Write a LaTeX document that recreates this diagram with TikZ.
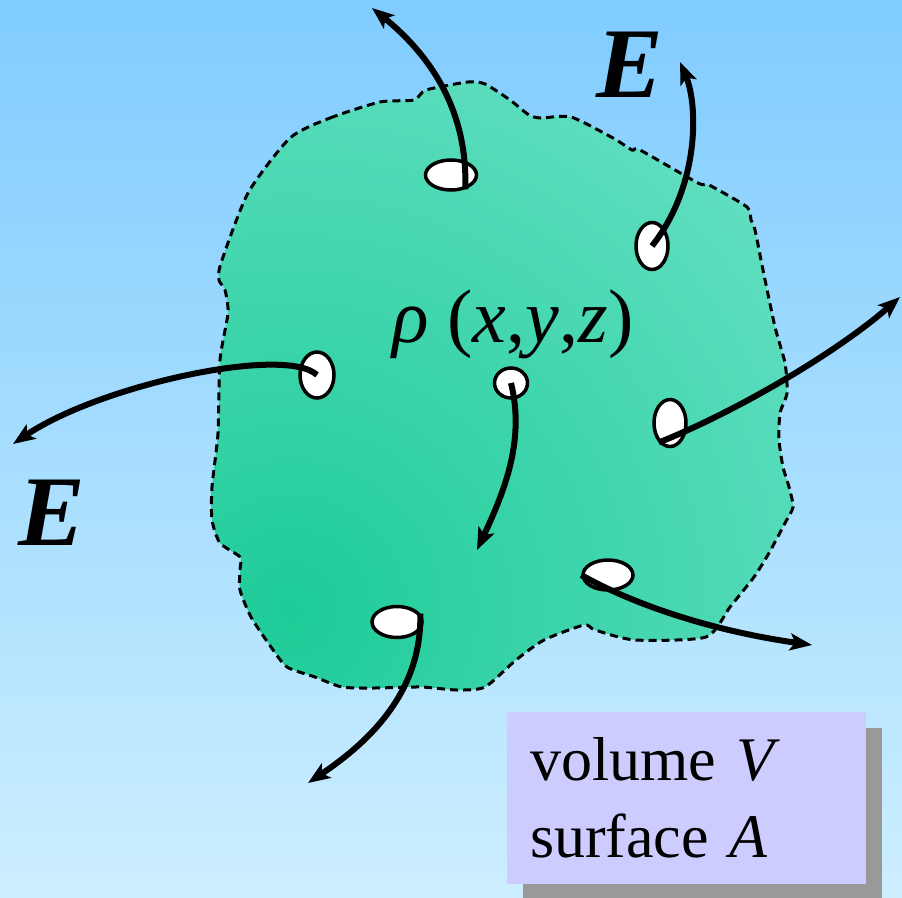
\documentclass[tikz,border=0pt]{standalone}
\usepackage{fontspec}
\setmainfont{Liberation Serif}
\usepackage{xcolor}
\usepackage{tikz}
\usetikzlibrary{arrows.meta,shapes.geometric,shadows}
\definecolor{skytop}{HTML}{80CCFF}
\definecolor{skybot}{HTML}{CCEEFF}
\definecolor{blobdark}{HTML}{1ECC98}
\definecolor{bloblight}{HTML}{66E0C4}
\definecolor{lavender}{HTML}{CCCCFF}
\definecolor{shadowgray}{HTML}{999999}
\pgfdeclareradialshading{blobshade}{\pgfpoint{0bp}{0bp}}{color(0bp)=(blobdark); color(24bp)=(bloblight); color(50bp)=(bloblight)}
\newcommand\blobpath{plot[smooth cycle,tension=0.4] coordinates {
 (290,138) (330,118) (380,102) (414,100) (426,90) (468,82) (485,84) (510,100)
 (529,115) (541,118) (571,117) (613,138) (632,150) (640,150) (698,183) (709,185)
 (747,207) (751,220) (755,230) (763,270) (775,327) (785,363) (787,393) (780,413)
 (779,440) (783,467) (789,487) (793,507) (785,523) (769,553) (754,577) (730,607)
 (706,637) (635,640) (595,630) (584,625) (544,640) (516,660) (485,687) (457,690)
 (421,687) (374,688) (342,687) (315,677) (287,667) (271,647) (251,617) (240,590)
 (240,570) (240,557) (220,543) (212,520) (212,487) (218,433) (220,360) (228,313)
 (225,290) (219,280) (221,263) (248,193)}}

\begin{document}
\begin{tikzpicture}[x=1pt,y=-1pt,>={Stealth[length=22pt,width=17pt,inset=5pt]},
 hole/.style={ellipse,draw,line width=3.5pt,fill=white,inner sep=0pt},
 field/.style={->,line width=6pt},
 bigE/.style={font=\fontsize{100}{100}\selectfont\bfseries\itshape,inner sep=0pt,anchor=base west},
 info/.style={fill=lavender,minimum width=359pt,minimum height=172pt,text width=313pt,
  align=left,font=\fontsize{62}{77}\selectfont,
  drop shadow={shadow xshift=16pt,shadow yshift=-16pt,fill=shadowgray,opacity=1}}]
\useasboundingbox (0,0) rectangle (902,897);
\shade[top color=skytop,bottom color=skybot] (0,0) rectangle (902,897);
% charged region
\begin{scope}
\clip \blobpath;
\shade[shading=blobshade] (290,610) circle (700);
\end{scope}
\draw[line width=3pt,dash pattern=on 8pt off 5pt] \blobpath;
% surface patches
\node[hole,minimum width=51pt,minimum height=30pt] (e1) at (451,175) {};
\node[hole,minimum width=32pt,minimum height=47pt] (e2) at (652,246) {};
\node[hole,minimum width=34pt,minimum height=46pt] (e3) at (317,375) {};
\node[hole,minimum width=33pt,minimum height=30pt] (e4) at (511,383) {};
\node[hole,minimum width=32pt,minimum height=47pt] (e5) at (670,423) {};
\node[hole,minimum width=50pt,minimum height=30pt] (e6) at (608,575) {};
\node[hole,minimum width=50pt,minimum height=31pt] (e7) at (397,622) {};
% field lines
\coordinate (t1) at (372,8);
\coordinate (t2) at (680,62);
\coordinate (t3) at (13,444);
\coordinate (t4) at (477,550);
\coordinate (t5) at (900,297);
\coordinate (t6) at (812,645);
\coordinate (t7) at (308,783);
\draw[field] (e1.-45) .. controls (468,110) and (430,55) .. (t1);
\draw[field] (e2.center) .. controls (700,185) and (698,105) .. (t2);
\draw[field] (e3.center) .. controls (285,345) and (100,385) .. (t3);
\draw[field] (e4.center) .. controls (525,440) and (505,490) .. (t4);
\draw[field] (e5.-120) .. controls (740,410) and (840,350) .. (t5);
\draw[field] (e6.west) .. controls (640,608) and (720,632) .. (t6);
\draw[field] (e7.20) .. controls (422,690) and (372,740) .. (t7);
% labels
\node[bigE] (Etop) at (596,97) {E};
\node[bigE] (Eleft) at (18,545) {E};
\node[anchor=base west,inner sep=0pt,font=\fontsize{76}{76}\selectfont] (rho) at (392,342)
 {\textit{ρ} (\textit{x},\textit{y},\textit{z})};
\node[info] (box) at (686.5,798) {volume \textit{V}\\surface \textit{A}};
\end{tikzpicture}
\end{document}
